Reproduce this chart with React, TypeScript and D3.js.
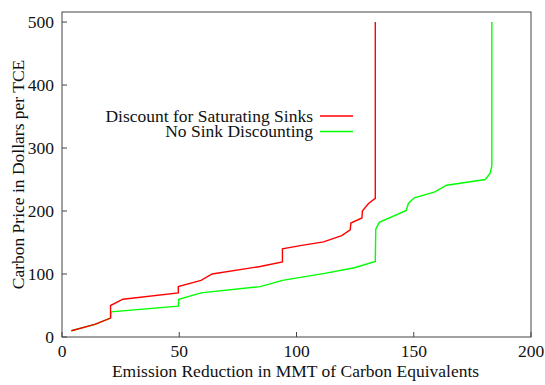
import React from 'react';
import * as d3 from 'd3';

// Discount for Saturating Sinks
const redX = [4, 14, 20.7, 20.7, 26, 49.6, 49.6, 59.3, 64, 84.5, 94, 94, 101.6, 111.5, 119.3, 122.9, 123.2, 127.9, 128.1, 130.7, 133.6, 133.6];
const redY = [10, 20, 30, 50, 60, 70, 80, 90, 100, 112, 119, 140, 145, 151, 161, 170, 181, 189, 200, 212, 220, 500];

// No Sink Discounting
const greenX = [4, 14, 20.7, 20.9, 49.6, 49.8, 59.3, 84.5, 94, 112, 124.7, 133.6, 133.8, 135.3, 146.8, 147.7, 150.2, 159, 164, 180.5, 182.6, 183.3, 183.3];
const greenY = [10, 20, 30, 40, 49, 60, 70, 80, 90, 101, 110, 120, 171, 182, 201, 212, 221, 230.5, 241, 250, 260, 272, 500];

const xTicks = [0, 50, 100, 150, 200];
const yTicks = [0, 100, 200, 300, 400, 500];

const legendNames = ['Discount for Saturating Sinks', 'No Sink Discounting'];
const legendColors = ['#ff0000', '#00ff00'];

const W = 545, H = 385;
const plot = { left: 62, right: 531, top: 12, bottom: 337 };
const textStyle = { fontFamily: "'Liberation Serif', 'Times New Roman', serif", fontSize: '17.5px' };

const App = () => {
  const xScale = d3.scaleLinear().domain([0, 200]).range([plot.left, plot.right]);
  const yScale = d3.scaleLinear().domain([0, 516]).range([plot.bottom, plot.top]);

  const path = (xs: number[], ys: number[]) =>
    d3.line<[number, number]>()
      .x(d => xScale(d[0]))
      .y(d => yScale(d[1]))(xs.map((x, i) => [x, ys[i]] as [number, number])) || '';

  return <svg width={W} height={H} style={{ position: 'absolute', left: 0, top: 0, background: '#fff' }}>
    {/* frame */}
    <rect x={plot.left} y={plot.top} width={plot.right - plot.left} height={plot.bottom - plot.top}
      fill='none' stroke='#444' strokeWidth={1} />

    {/* x ticks */}
    {xTicks.map(t => <g key={'x' + t}>
      <line x1={xScale(t)} x2={xScale(t)} y1={plot.bottom} y2={plot.bottom - 5} stroke='#444' />
      <text x={xScale(t)} y={357} textAnchor='middle' style={textStyle} fill='#111'>{t}</text>
    </g>)}

    {/* y ticks */}
    {yTicks.map(t => <g key={'y' + t}>
      <line x1={plot.left} x2={plot.left + 5} y1={yScale(t)} y2={yScale(t)} stroke='#444' />
      <text x={54} y={yScale(t) + 5.7} textAnchor='end' style={textStyle} fill='#111'>{t}</text>
    </g>)}

    {/* axis titles */}
    <text x={(plot.left + plot.right) / 2 - 1} y={377} textAnchor='middle' style={textStyle} fill='#111'>
      Emission Reduction in MMT of Carbon Equivalents
    </text>
    <text transform={`translate(24, ${(plot.top + plot.bottom) / 2}) rotate(-90)`} textAnchor='middle'
      style={textStyle} fill='#111'>
      Carbon Price in Dollars per TCE
    </text>

    {/* curves */}
    <path d={path(greenX, greenY)} fill='none' stroke='#00ff00' strokeWidth={1.4} />
    <path d={path(redX, redY)} fill='none' stroke='#ff0000' strokeWidth={1.4} />

    {/* legend */}
    {legendNames.map((name, i) => {
      const y = 116 + i * 15.5;
      return <g key={name}>
        <text x={313} y={y + 5.7} textAnchor='end' style={textStyle} fill='#111'>{name}</text>
        <line x1={320} x2={353} y1={y} y2={y} stroke={legendColors[i]} strokeWidth={1.4} />
      </g>
    })}
  </svg>
}

export default App;
